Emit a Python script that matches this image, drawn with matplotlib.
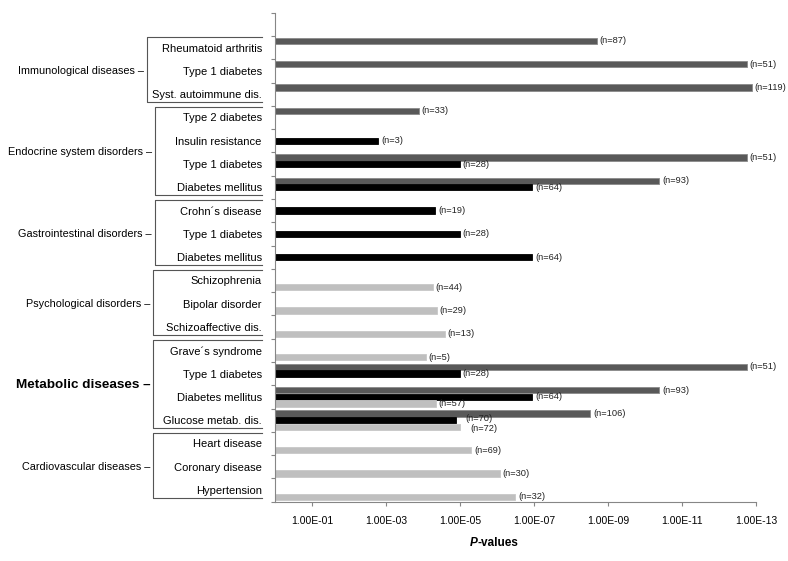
import numpy as np
import matplotlib.pyplot as plt
from matplotlib.transforms import blended_transform_factory

plt.rcParams['font.family'] = ['Liberation Sans', 'DejaVu Sans']

# rows from top to bottom
diseases = ['Rheumatoid arthritis', 'Type 1 diabetes', 'Syst. autoimmune dis.',
            'Type 2 diabetes', 'Insulin resistance', 'Type 1 diabetes', 'Diabetes mellitus',
            'Crohn\u00b4s disease', 'Type 1 diabetes', 'Diabetes mellitus',
            'Schizophrenia', 'Bipolar disorder', 'Schizoaffective dis.',
            'Grave\u00b4s syndrome', 'Type 1 diabetes', 'Diabetes mellitus', 'Glucose metab. dis.',
            'Heart disease', 'Coronary disease', 'Hypertension']

groups = ['Immunological diseases', 'Endocrine system disorders', 'Gastrointestinal disorders',
          'Psychological disorders', 'Metabolic diseases', 'Cardiovascular diseases']
group_first = [0, 3, 7, 10, 13, 17]
group_last = [2, 6, 9, 12, 16, 19]

nan = np.nan
# three series of P-values (dark gray, black, light gray) and their sample sizes
p_dark = [2.0e-9, 1.8e-13, 1.3e-13, 1.3e-4, nan, 1.8e-13, 4.1e-11, nan, nan, nan,
          nan, nan, nan, nan, 1.8e-13, 4.1e-11, 3.0e-9, nan, nan, nan]
n_dark = [87, 51, 119, 33, 0, 51, 93, 0, 0, 0, 0, 0, 0, 0, 51, 93, 106, 0, 0, 0]
p_black = [nan, nan, nan, nan, 1.6e-3, 1.0e-5, 1.1e-7, 4.6e-5, 1.0e-5, 1.1e-7,
           nan, nan, nan, nan, 1.0e-5, 1.1e-7, 1.3e-5, nan, nan, nan]
n_black = [0, 0, 0, 0, 3, 28, 64, 19, 28, 64, 0, 0, 0, 0, 28, 64, 70, 0, 0, 0]
p_light = [nan, nan, nan, nan, nan, nan, nan, nan, nan, nan,
           5.4e-5, 4.3e-5, 2.6e-5, 8.3e-5, nan, 4.5e-5, 9.8e-6, 5.0e-6, 8.3e-7, 3.2e-7]
n_light = [0, 0, 0, 0, 0, 0, 0, 0, 0, 0, 44, 29, 13, 5, 0, 57, 72, 69, 30, 32]

W, H = 788, 561
fig = plt.figure(figsize=(W / 100, H / 100), dpi=100)
ax = fig.add_axes([275 / W, 1 - 501.7 / H, (756 - 275) / W, (501.7 - 12.7) / H])

rows = np.arange(len(diseases))
series = [(p_dark, n_dark, -0.286, '#595959', '#8a8a8a', 0),
          (p_black, n_black, 0.0, '#000000', '#000000', 1.5),
          (p_light, n_light, 0.286, '#bfbfbf', '#c8c8c8', -1.5)]
for p, n, off, col, edge, dy in series:
    logp = -np.log10(np.array(p, dtype=float))
    ok = ~np.isnan(logp)
    ax.barh(rows[ok] + off, logp[ok], height=0.27, color=col, edgecolor=edge, linewidth=0.6)
    for r, x, k in zip(rows[ok], logp[ok], np.array(n)[ok]):
        # labels of the crowded glucose row are nudged apart, as in the original
        shift = dy if r == 16 else 0
        ax.annotate('(n=%d)' % k, xy=(x, r + off), xytext=(2 + 5 * (shift != 0), shift),
                    textcoords='offset points', va='center', ha='left', fontsize=6.7,
                    color='#222222')

ax.set_xlim(0, 13)
ax.set_ylim(19.5, -1.5)
xt = np.arange(1, 14, 2)
ax.set_xticks(xt, ['1.00E-%02d' % k for k in xt])
ax.set_yticks(rows, diseases)
ax.set_yticks(np.arange(-1.5, 20, 1), minor=True)
ax.tick_params(axis='y', which='major', length=0, pad=9.5, labelsize=8)
ax.tick_params(axis='y', which='minor', length=3, color='#868686', width=0.8)
ax.tick_params(axis='x', length=3, color='#868686', width=0.8, labelsize=7.5, pad=7)
for s in ['top', 'right']:
    ax.spines[s].set_visible(False)
for s in ['left', 'bottom']:
    ax.spines[s].set_color('#868686')
    ax.spines[s].set_linewidth(0.8)

# brackets and group labels
bx = [147, 155, 155, 153, 153, 153]
tr = blended_transform_factory(fig.transFigure, ax.transData)
for name, a, b, x in zip(groups, group_first, group_last, bx):
    y0 = a - 0.5 + 0.06
    y1 = b + 0.5 - 0.17
    ax.plot([262 / W, x / W, x / W, 262 / W], [y0, y0, y1, y1], transform=tr,
            color='#555555', lw=0.8, clip_on=False)
    bold = name == 'Metabolic diseases'
    ax.text((x - 3) / W, (a + b) / 2, name + ' \u2013', transform=tr, ha='right', va='center',
            fontsize=9.7 if bold else 7.8, fontweight='bold' if bold else 'normal')

t1 = fig.text(478 / W, 1 - 543 / H, 'P', fontsize=8.5, fontweight='bold', style='italic',
              ha='right', va='center')
ax.annotate('-values', xy=(1, 0.5), xycoords=t1, ha='left', va='center',
            fontsize=8.5, fontweight='bold')

plt.savefig('out.png')
